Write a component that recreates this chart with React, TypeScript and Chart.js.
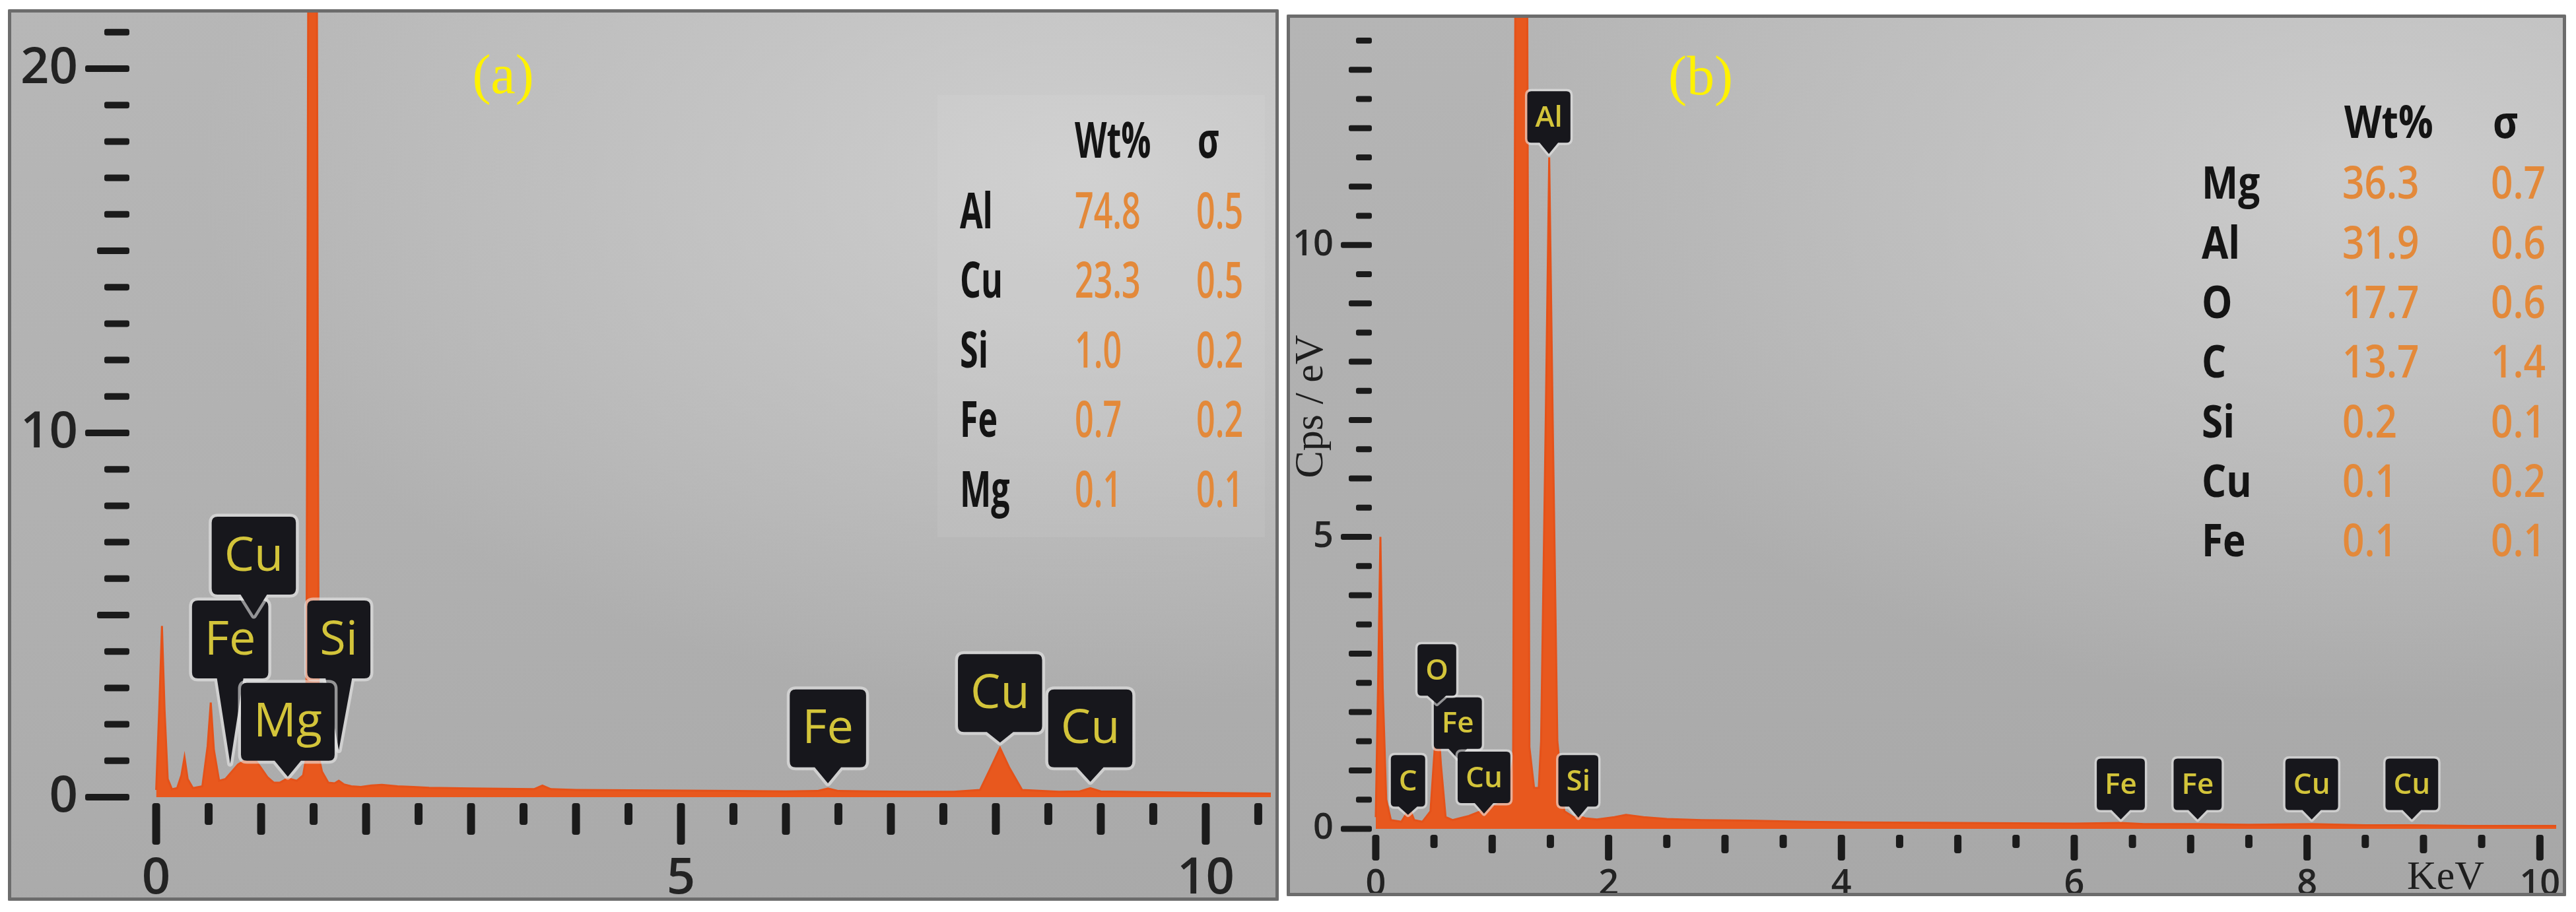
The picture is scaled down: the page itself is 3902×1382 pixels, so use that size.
import React, { useEffect, useRef } from 'react';
import { Chart, registerables } from 'chart.js';

Chart.register(...registerables);

const SANS = '"Open Sans", "Noto Sans", "DejaVu Sans", sans-serif';
const SERIF = '"Liberation Serif", "DejaVu Serif", serif';

/* ---------------- Panel (a) data ---------------- */
const energyA = [0.0, 0.03, 0.055, 0.08, 0.11, 0.15, 0.2, 0.24, 0.27, 0.3, 0.35, 0.44, 0.49, 0.52, 0.55, 0.6, 0.66, 0.72, 0.78, 0.84, 0.9, 0.95, 1.0, 1.06, 1.12, 1.18, 1.24, 1.28, 1.34, 1.4, 1.43, 1.46, 1.49, 1.52, 1.55, 1.58, 1.64, 1.7, 1.74, 1.79, 1.86, 1.95, 2.05, 2.15, 2.3, 2.45, 2.6, 2.8, 3.0, 3.3, 3.6, 3.68, 3.76, 4.0, 4.5, 5.0, 5.5, 6.0, 6.3, 6.4, 6.5, 6.8, 7.2, 7.6, 7.85, 7.95, 8.04, 8.13, 8.25, 8.6, 8.8, 8.9, 9.0, 9.4, 10.0, 10.62];
const countsA = [0.2, 2.5, 4.7, 2.4, 0.5, 0.22, 0.25, 0.6, 1.1, 0.5, 0.25, 0.3, 1.4, 2.6, 1.3, 0.45, 0.5, 0.7, 0.9, 1.0, 1.05, 1.0, 0.8, 0.55, 0.4, 0.4, 0.5, 0.5, 0.45, 0.6, 1.1, 35, 60, 35, 1.1, 0.7, 0.4, 0.38, 0.45, 0.35, 0.3, 0.28, 0.32, 0.34, 0.3, 0.28, 0.26, 0.25, 0.24, 0.23, 0.22, 0.32, 0.22, 0.2, 0.19, 0.18, 0.17, 0.16, 0.17, 0.24, 0.17, 0.16, 0.15, 0.15, 0.2, 0.8, 1.35, 0.8, 0.2, 0.15, 0.16, 0.25, 0.16, 0.14, 0.12, 0.1];
const xTickLabelsA = [0, 5, 10];
const yTickLabelsA = [0, 10, 20];
const peakTextA = ['Fe', 'Si', 'Mg', 'Cu', 'Fe', 'Cu', 'Cu'];
const peakEnergyA = [0.705, 1.74, 1.254, 0.93, 6.4, 8.04, 8.9];
const peakTipA = [0.92, 1.29, 0.56, 4.98, 0.38, 1.5, 0.42];
const peakBoxBaseA = [3.26, 3.26, 1.0, 5.56, 0.82, 1.79, 0.82];
const tableElementsA = ['Al', 'Cu', 'Si', 'Fe', 'Mg'];
const tableWtA = ['74.8', '23.3', '1.0', '0.7', '0.1'];
const tableSigmaA = ['0.5', '0.5', '0.2', '0.2', '0.1'];

/* ---------------- Panel (b) data ---------------- */
const energyB = [0.0, 0.02, 0.04, 0.06, 0.09, 0.13, 0.22, 0.26, 0.29, 0.33, 0.4, 0.47, 0.5, 0.53, 0.56, 0.6, 0.66, 0.72, 0.8, 0.9, 1.0, 1.08, 1.14, 1.18, 1.21, 1.25, 1.29, 1.32, 1.36, 1.4, 1.42, 1.46, 1.49, 1.52, 1.56, 1.62, 1.7, 1.74, 1.8, 1.9, 2.05, 2.15, 2.3, 2.5, 2.8, 3.2, 3.7, 4.2, 5.0, 6.0, 6.4, 6.6, 7.06, 7.5, 8.04, 8.5, 8.9, 9.4, 10.14];
const countsB = [0.2, 2.5, 5.0, 2.4, 0.5, 0.15, 0.12, 0.25, 0.35, 0.15, 0.12, 0.3, 1.2, 2.0, 1.1, 0.2, 0.15, 0.18, 0.22, 0.3, 0.38, 0.45, 0.6, 1.2, 22, 40, 22, 1.4, 0.7, 0.7, 1.5, 7, 11.5, 7, 1.5, 0.3, 0.2, 0.22, 0.18, 0.16, 0.2, 0.24, 0.2, 0.17, 0.15, 0.14, 0.12, 0.11, 0.1, 0.09, 0.1, 0.08, 0.08, 0.07, 0.08, 0.06, 0.06, 0.05, 0.05];
const xTickLabelsB = [0, 2, 4, 6, 8, 10];
const yTickLabelsB = [0, 5, 10];
const peakTextB = ['C', 'Fe', 'Cu', 'O', 'Si', 'Al', 'Fe', 'Fe', 'Cu', 'Cu'];
const peakEnergyB = [0.277, 0.705, 0.93, 0.525, 1.74, 1.487, 6.4, 7.06, 8.04, 8.9];
const peakTipB = [0.24, 1.2, 0.26, 2.14, 0.19, 11.56, 0.16, 0.16, 0.16, 0.16];
const peakBoxBaseB = [0.38, 1.37, 0.44, 2.28, 0.38, 11.75, 0.32, 0.32, 0.32, 0.32];
const tableElementsB = ['Mg', 'Al', 'O', 'C', 'Si', 'Cu', 'Fe'];
const tableWtB = ['36.3', '31.9', '17.7', '13.7', '0.2', '0.1', '0.1'];
const tableSigmaB = ['0.7', '0.6', '0.6', '1.4', '0.1', '0.2', '0.1'];

const dataA = {
  energy: energyA, counts: countsA, xLabels: xTickLabelsA, yLabels: yTickLabelsA,
  peakText: peakTextA, peakEnergy: peakEnergyA, peakTip: peakTipA, peakBoxBase: peakBoxBaseA,
  tEl: tableElementsA, tWt: tableWtA, tSig: tableSigmaA,
};
const dataB = {
  energy: energyB, counts: countsB, xLabels: xTickLabelsB, yLabels: yTickLabelsB,
  peakText: peakTextB, peakEnergy: peakEnergyB, peakTip: peakTipB, peakBoxBase: peakBoxBaseB,
  tEl: tableElementsB, tWt: tableWtB, tSig: tableSigmaB,
};

/* ---------------- Styles / layout ---------------- */
const styleA = {
  id: 'a', left: 12, top: 14, width: 1925, height: 1351,
  area: { left: 188, top: 5, right: 1913, bottom: 1203 },
  xMin: -0.23, xMax: 10.62, yMin: -0.163, yMax: 21.54,
  xStep: 0.5, xMed: 1, xLong: 5, xTickMax: 10.5, xLen: [33, 48, 63], xTickW: 12, xTickGap: 0,
  yStep: 1, yMed: 5, yLong: 10, yTickMax: 21, yLen: [38, 49, 67], yTickW: 10, yTickGap: 4,
  tickFont: 76, xPad: 70, yPad: 82,
  boxFont: 72, boxWeight: '400', boxH: 118, boxPadX: 19, boxMinW: 95, pointerBase: 40, boxR: 9, glow: 9,
  table: { font: 76, sx: 0.66, headY: 203, rowY0: 310, rowDy: 105.6, nameX: 1442, wtX: 1616, sigX: 1800, headWtX: 1616, headSigX: 1802 },
  tableBg: { x: 1408, y: 130, w: 496, h: 670 },
  tag: '(a)', tagX: 750, tagY: 105,
  bg: 'radial-gradient(ellipse 70% 60% at 85% 18%, rgba(206,206,206,1) 0%, rgba(206,206,206,0) 100%), linear-gradient(175deg, #b7b7b7 0%, #b1b1b1 50%, #a9a9a9 100%)',
};
const styleB = {
  id: 'b', left: 1949, top: 22, width: 1938, height: 1336,
  area: { left: 130, top: 5, right: 1923, bottom: 1241 },
  xMin: -0.028, xMax: 10.14, yMin: -0.08, yMax: 13.89,
  xStep: 0.5, xMed: 1, xLong: 2, xTickMax: 10, xLen: [20, 28, 39], xTickW: 11, xTickGap: 2,
  yStep: 0.5, yMed: 1, yLong: 5, yTickMax: 13.5, yLen: [24, 35, 47], yTickW: 9, yTickGap: 1,
  tickFont: 54, xPad: 45, yPad: 59,
  boxFont: 44, boxWeight: '600', boxH: 78, boxPadX: 12, boxMinW: 52, pointerBase: 28, boxR: 6, glow: 7,
  table: { font: 68, sx: 0.86, headY: 168, rowY0: 260, rowDy: 90.3, nameX: 1386, wtX: 1599, sigX: 1824, headWtX: 1602, headSigX: 1827 },
  tableBg: null,
  tag: '(b)', tagX: 627, tagY: 99,
  bg: 'radial-gradient(ellipse 70% 60% at 85% 18%, rgba(204,204,204,1) 0%, rgba(204,204,204,0) 100%), linear-gradient(175deg, #b5b5b5 0%, #afafaf 50%, #a7a7a7 100%)',
};

function isMult(v: number, m: number) {
  const q = v / m;
  return Math.abs(q - Math.round(q)) < 1e-6;
}

function squeezed(ctx: any, text: string, x: number, y: number, sx: number) {
  ctx.save();
  ctx.translate(x, y);
  ctx.scale(sx, 1);
  ctx.fillText(text, 0, 0);
  ctx.restore();
}

function makeDecor(d: any, s: any) {
  return {
    id: 'decor' + s.id,
    afterDraw(chart: any) {
      const ctx = chart.ctx;
      const xs = chart.scales.x;
      const ys = chart.scales.y;
      const ca = chart.chartArea;
      ctx.save();

      // tick marks (x)
      ctx.fillStyle = '#1b1b1b';
      const nx = Math.round(s.xTickMax / s.xStep);
      for (let i = 0; i <= nx; i++) {
        const v = i * s.xStep;
        const px = xs.getPixelForValue(v);
        const len = isMult(v, s.xLong) ? s.xLen[2] : isMult(v, s.xMed) ? s.xLen[1] : s.xLen[0];
        ctx.beginPath();
        ctx.roundRect(px - s.xTickW / 2, ca.bottom + s.xTickGap, s.xTickW, len, s.xTickW / 3);
        ctx.fill();
      }
      // tick marks (y)
      const ny = Math.round(s.yTickMax / s.yStep);
      for (let i = 0; i <= ny; i++) {
        const v = i * s.yStep;
        const py = ys.getPixelForValue(v);
        const len = isMult(v, s.yLong) ? s.yLen[2] : isMult(v, s.yMed) ? s.yLen[1] : s.yLen[0];
        ctx.beginPath();
        ctx.roundRect(ca.left - s.yTickGap - len, py - s.yTickW / 2, len, s.yTickW, s.yTickW / 3);
        ctx.fill();
      }

      // peak label boxes
      ctx.font = `${s.boxWeight} ${s.boxFont}px ${SANS}`;
      for (let i = 0; i < d.peakText.length; i++) {
        const text = d.peakText[i];
        const cx = xs.getPixelForValue(d.peakEnergy[i]);
        const bottom = ys.getPixelForValue(d.peakBoxBase[i]);
        const tip = ys.getPixelForValue(d.peakTip[i]);
        const tw = ctx.measureText(text).width;
        const w = Math.max(tw + 2 * s.boxPadX, s.boxMinW);
        const h = s.boxH;
        const top = bottom - h;
        const left = cx - w / 2;
        const r = s.boxR;
        const b = s.pointerBase / 2;
        ctx.beginPath();
        ctx.moveTo(left + r, top);
        ctx.lineTo(left + w - r, top);
        ctx.quadraticCurveTo(left + w, top, left + w, top + r);
        ctx.lineTo(left + w, bottom - r);
        ctx.quadraticCurveTo(left + w, bottom, left + w - r, bottom);
        ctx.lineTo(cx + b, bottom);
        ctx.lineTo(cx, tip);
        ctx.lineTo(cx - b, bottom);
        ctx.lineTo(left + r, bottom);
        ctx.quadraticCurveTo(left, bottom, left, bottom - r);
        ctx.lineTo(left, top + r);
        ctx.quadraticCurveTo(left, top, left + r, top);
        ctx.closePath();
        ctx.lineJoin = 'round';
        ctx.strokeStyle = 'rgba(232,232,232,0.6)';
        ctx.lineWidth = s.glow;
        ctx.stroke();
        ctx.fillStyle = '#17171c';
        ctx.fill();
        ctx.fillStyle = '#d3c43a';
        ctx.textAlign = 'center';
        ctx.textBaseline = 'middle';
        ctx.fillText(text, cx, top + h / 2 + 2);
      }

      // composition table
      const t = s.table;
      if (s.tableBg) {
        ctx.fillStyle = 'rgba(255,255,255,0.07)';
        ctx.fillRect(s.tableBg.x, s.tableBg.y, s.tableBg.w, s.tableBg.h);
      }
      ctx.textAlign = 'left';
      ctx.textBaseline = 'middle';
      ctx.fillStyle = '#141414';
      ctx.font = `700 ${t.font}px ${SANS}`;
      squeezed(ctx, 'Wt%', t.headWtX, t.headY, t.sx);
      squeezed(ctx, 'σ', t.headSigX, t.headY, t.sx);
      for (let i = 0; i < d.tEl.length; i++) {
        const y = t.rowY0 + i * t.rowDy;
        ctx.fillStyle = '#141414';
        ctx.font = `700 ${t.font}px ${SANS}`;
        squeezed(ctx, d.tEl[i], t.nameX, y, t.sx);
        ctx.fillStyle = '#e3893a';
        ctx.font = `600 ${t.font}px ${SANS}`;
        squeezed(ctx, d.tWt[i], t.wtX, y, t.sx);
        squeezed(ctx, d.tSig[i], t.sigX, y, t.sx);
      }

      // panel tag
      ctx.fillStyle = '#fff200';
      ctx.font = `400 84px ${SERIF}`;
      ctx.textAlign = 'center';
      ctx.fillText(s.tag, s.tagX, s.tagY);

      if (s.id === 'b') {
        ctx.fillStyle = '#1e1e1e';
        ctx.font = `400 62px ${SERIF}`;
        ctx.textAlign = 'center';
        ctx.textBaseline = 'middle';
        ctx.fillText('KeV', xs.getPixelForValue(9.19), 1309);
        ctx.save();
        ctx.translate(38, 594);
        ctx.rotate(-Math.PI / 2);
        ctx.fillText('Cps / eV', 0, 0);
        ctx.restore();
      }

      // frame border
      ctx.strokeStyle = '#6c6c6c';
      ctx.lineWidth = 5;
      ctx.strokeRect(2.5, 2.5, s.width - 5, s.height - 5);
      ctx.restore();
    },
  };
}

function Panel({ d, s }: { d: any; s: any }) {
  const ref = useRef<HTMLCanvasElement>(null);
  useEffect(() => {
    const canvas = ref.current;
    if (!canvas) return;
    const points = d.energy.map((e: number, i: number) => ({ x: e, y: d.counts[i] }));
    const chart = new Chart(canvas, {
      type: 'line',
      data: {
        datasets: [
          {
            data: points,
            borderColor: 'rgb(228,82,26)',
            backgroundColor: 'rgb(232,88,30)',
            borderWidth: 3,
            pointRadius: 0,
            tension: 0,
            fill: 'origin',
          },
        ],
      },
      options: {
        responsive: false,
        animation: false,
        devicePixelRatio: 1,
        layout: { padding: { left: 0, top: s.area.top, right: s.width - s.area.right, bottom: 0 } },
        plugins: { legend: { display: false }, tooltip: { enabled: false } },
        scales: {
          x: {
            type: 'linear',
            min: s.xMin,
            max: s.xMax,
            border: { display: false },
            grid: { display: false, drawTicks: false },
            afterBuildTicks: (sc: any) => { sc.ticks = d.xLabels.map((v: number) => ({ value: v })); },
            afterFit: (sc: any) => { sc.height = s.height - s.area.bottom; sc.paddingLeft = 0; sc.paddingRight = 0; },
            ticks: {
              autoSkip: false, maxRotation: 0, minRotation: 0, padding: s.xPad, color: '#232323',
              font: { family: SANS, size: s.tickFont, weight: '600' },
              callback: (v: any) => String(v),
            },
          },
          y: {
            type: 'linear',
            min: s.yMin,
            max: s.yMax,
            border: { display: false },
            grid: { display: false, drawTicks: false },
            afterBuildTicks: (sc: any) => { sc.ticks = d.yLabels.map((v: number) => ({ value: v })); },
            afterFit: (sc: any) => { sc.width = s.area.left; sc.paddingTop = 0; sc.paddingBottom = 0; },
            ticks: {
              autoSkip: false, padding: s.yPad, color: '#232323',
              font: { family: SANS, size: s.tickFont, weight: '600' },
              callback: (v: any) => String(v),
            },
          },
        },
      },
      plugins: [makeDecor(d, s)],
    } as any);
    return () => chart.destroy();
  }, []);
  return (
    <div style={{ position: 'absolute', left: s.left, top: s.top, width: s.width, height: s.height, background: s.bg }}>
      <canvas ref={ref} width={s.width} height={s.height} style={{ display: 'block', width: s.width, height: s.height }} />
    </div>
  );
}

export default function App() {
  return (
    <div style={{ position: 'absolute', left: 0, top: 0, width: 3902, height: 1382, background: '#ffffff', overflow: 'hidden' }}>
      <Panel d={dataA} s={styleA} />
      <Panel d={dataB} s={styleB} />
    </div>
  );
}
